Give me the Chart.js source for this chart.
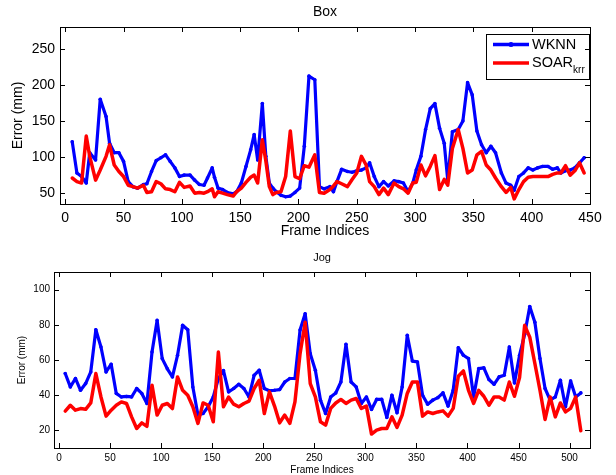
<!DOCTYPE html>
<html>
<head>
  <title>Box / Jog error</title>
  <script src="https://cdn.jsdelivr.net/npm/chart.js"></script>
  <style>
    body {
      margin: 0;
      background: #fff;
      width: 616px;
      height: 475px;
      overflow: hidden;
      position: relative;
    }
    canvas { position: absolute; left: 0; }
  </style>
</head>
<body>
<canvas id="boxChart" width="616" height="240" style="top:0"></canvas>
<canvas id="jogChart" width="616" height="238" style="top:240px"></canvas>

<script>
  // series names (second one gets a subscript in the legend)
  const seriesNames = ["WKNN", "SOAR"];
  const seriesSubs = ["", "krr"];

  // Box sequence
  const boxFrames = [6,10,14,18,21,26,30,35,38,42,46,50,54,58,62,67,70,74,78,82,
    86,90,94,98,102,107,111,115,119,122,126,128,131,135,139,144,147,151,155,159,
    162,165,169,172,175,178,181,185,189,193,197,201,205,209,214,218,222,227,230,233,
    237,242,246,250,254,258,261,265,269,273,277,282,286,290,294,298,301,305,309,313,
    317,321,325,328,332,337,341,345,349,353,357,361,365,369,374,378,382,385,389,393,
    397,401,405,409,414,418,422,425,429,433,437,441,445];
  const boxWknn = [121,78,73,64,106,96,180,156,119,106,106,94,66,59,57,62,63,80,95,99,
    103,94,85,73,75,75,68,62,61,71,85,72,57,55,51,49,52,64,87,110,
    131,96,174,101,64,57,52,47,45,46,51,57,115,212,207,59,56,59,52,66,
    83,80,79,81,82,85,92,73,59,66,60,67,66,64,52,64,82,101,138,167,
    174,140,119,68,135,138,150,203,186,136,117,106,115,106,78,64,61,54,73,78,
    85,82,85,87,87,83,85,78,81,82,85,92,99];
  const boxSoar = [71,66,64,129,101,68,82,101,117,89,80,73,61,59,57,61,51,52,66,63,
    56,55,52,65,58,60,50,51,50,52,56,45,52,50,48,46,52,57,65,72,
    75,64,124,95,59,48,51,52,73,136,73,70,88,86,103,51,50,55,60,66,
    63,59,69,78,101,89,66,59,48,57,48,64,59,56,50,64,65,89,74,87,
    102,55,69,61,112,138,112,78,82,103,108,89,82,71,59,51,58,42,55,66,
    72,73,73,73,73,76,78,78,88,75,81,92,78];
  const boxXTicks = [0,50,100,150,200,250,300,350,400,450];
  const boxYTicks = [50,100,150,200,250];

  // Jog sequence
  const jogFrames = [6,11,16,21,26,31,36,41,46,51,56,61,66,71,76,81,86,91,96,101,
    106,111,116,121,126,131,136,141,146,151,156,161,166,171,176,181,186,191,196,201,
    206,211,216,221,226,231,236,241,246,251,256,261,266,271,276,281,286,291,296,301,
    306,311,316,321,326,331,336,341,346,351,356,361,366,371,376,381,386,391,396,401,
    406,411,416,421,426,431,436,441,446,451,456,461,466,471,476,481,486,491,496,501,
    506,511];
  const jogWknn = [52.3,44.7,49.5,42.8,46.6,53.2,77.2,67.4,53.2,57.6,
    41,39,39.3,39,43.8,41,35.3,64.5,82.5,60.8,
    55,50.4,62.7,79.7,77.2,44.7,28.7,29.6,33.4,39,
    49.5,54,41.9,43.8,46.2,43.8,39,51.3,54.2,43.8,
    42.5,42.8,43.2,47.5,49.5,49.5,77,86.3,63.6,54.2,
    37.2,29.6,39,41.3,47.5,68.9,47.5,44.7,35.3,39,
    31.9,37.6,37.6,27.4,40,30,44.7,74,59.4,58.9,
    40,34.9,37.2,38.6,41.3,33.8,42.8,67,62.7,60.8,
    39,55.1,55.5,48.9,46.2,50.4,51.3,67.4,47,62.7,
    74.6,90.4,81.5,60.8,43.8,37.2,39,48.5,33.4,48.1,
    39,41.3];
  const jogSoar = [31,34.3,31.5,32.4,32,35.6,52.3,39,28.1,31.5,
    34.3,36.2,35.3,27.7,21.1,24.3,22.3,45.7,28.7,34.3,
    35.3,32.4,50.4,42.8,40,33.4,24,35.6,34.3,24.9,
    64.5,33.4,39,34.9,33.4,35.3,36.6,43.8,48.5,29.6,
    41.9,33.8,24.3,28.7,24,36.2,63.6,81.5,46.6,39,
    24.9,23,32.5,35.6,37.6,35.3,37.2,38.1,32.5,33.8,
    17.9,20.2,21.1,21.1,27.7,21.7,28.7,41,47.5,47.5,
    28.1,30.5,29.6,30.5,31.1,28.1,32.5,50.8,53.8,42.8,
    35.3,42.8,39.4,34.3,39,39,37.2,47.5,39.4,50,
    79.7,73,58,42.8,26.2,39,27.7,35.6,30.5,32.5,
    39,19.8];
  const jogXTicks = [0,50,100,150,200,250,300,350,400,450,500];
  const jogYTicks = [20,40,60,80,100];

  const FONT = "Arial, 'Liberation Sans', sans-serif";

  // box around the axes + inward tick marks on all four sides (matlab look)
  const matlabAxes = {
    id: "matlabAxes",
    afterDraw(chart, args, opts) {
      const ctx = chart.ctx;
      const a = chart.chartArea;
      const x = chart.scales.x, y = chart.scales.y;
      const len = opts.tickLen || 5;
      ctx.save();
      ctx.strokeStyle = "#000";
      ctx.lineWidth = 1;
      ctx.beginPath();
      x.ticks.forEach(t => {
        const px = Math.round(x.getPixelForValue(t.value)) + 0.5;
        ctx.moveTo(px, a.bottom); ctx.lineTo(px, a.bottom - len);
        ctx.moveTo(px, a.top); ctx.lineTo(px, a.top + len);
      });
      y.ticks.forEach(t => {
        const py = Math.round(y.getPixelForValue(t.value)) + 0.5;
        ctx.moveTo(a.left, py); ctx.lineTo(a.left + len, py);
        ctx.moveTo(a.right, py); ctx.lineTo(a.right - len, py);
      });
      ctx.stroke();
      ctx.strokeRect(Math.round(a.left) + 0.5, Math.round(a.top) + 0.5,
        Math.round(a.right - a.left), Math.round(a.bottom - a.top));
      ctx.restore();
    }
  };

  // legend with subscript, only for the top plot
  const subLegend = {
    id: "subLegend",
    afterDatasetsDraw(chart, args, opts) {
      if (!opts.show) return;
      const ctx = chart.ctx;
      const bx = 486, by = 34, bw = 103, bh = 45;
      ctx.save();
      ctx.fillStyle = "#fff";
      ctx.fillRect(bx, by, bw, bh);
      ctx.strokeStyle = "#000";
      ctx.lineWidth = 1;
      ctx.strokeRect(bx + 0.5, by + 0.5, bw, bh);
      const rows = [44.5, 63];
      chart.data.datasets.forEach((ds, i) => {
        const ry = rows[i];
        ctx.strokeStyle = ds.borderColor;
        ctx.lineWidth = 3.5;
        ctx.beginPath();
        ctx.moveTo(493, ry); ctx.lineTo(529, ry);
        ctx.stroke();
        if (ds.pointRadius > 0) {
          ctx.fillStyle = ds.borderColor;
          ctx.beginPath(); ctx.arc(511, ry, 2.5, 0, Math.PI * 2); ctx.fill();
        }
        ctx.fillStyle = "#000";
        ctx.textBaseline = "middle";
        ctx.textAlign = "left";
        ctx.font = "14.5px " + FONT;
        ctx.fillText(seriesNames[i], 532, ry);
        if (seriesSubs[i]) {
          const w = ctx.measureText(seriesNames[i]).width;
          ctx.font = "10px " + FONT;
          ctx.fillText(seriesSubs[i], 532 + w, ry + 7);
        }
      });
      ctx.restore();
    }
  };

  function makeChart(id, frames, wknn, soar, cfg) {
    const ctx = document.getElementById(id).getContext("2d");
    return new Chart(ctx, {
      type: "line",
      data: {
        datasets: [{
          label: seriesNames[0],
          data: frames.map((f, i) => ({ x: f, y: wknn[i] })),
          borderColor: "#0000ff",
          backgroundColor: "#0000ff",
          borderWidth: 3.2,
          borderJoinStyle: "round",
          borderCapStyle: "round",
          pointRadius: 1.8,
          pointBorderWidth: 0,
          pointBackgroundColor: "#0000ff",
          tension: 0,
          order: 1
        }, {
          label: seriesNames[1] + seriesSubs[1],
          data: frames.map((f, i) => ({ x: f, y: soar[i] })),
          borderColor: "#ff0000",
          backgroundColor: "#ff0000",
          borderWidth: 3.5,
          borderJoinStyle: "round",
          borderCapStyle: "round",
          pointRadius: 0,
          tension: 0,
          order: 0
        }]
      },
      options: {
        responsive: false,
        animation: false,
        devicePixelRatio: 1,
        layout: { padding: { left: 0, right: 26, top: 0, bottom: 0 } },
        plugins: {
          legend: { display: false },
          tooltip: { enabled: false },
          title: {
            display: true,
            text: cfg.title,
            fullSize: false,
            color: "#000",
            font: { family: FONT, size: cfg.titleSize, weight: "normal" },
            padding: cfg.titlePad
          },
          matlabAxes: { tickLen: 5 },
          subLegend: { show: cfg.legend }
        },
        scales: {
          x: {
            type: "linear",
            min: cfg.xMin, max: cfg.xMax,
            grid: { display: false, drawTicks: false },
            border: { display: false },
            afterBuildTicks: s => { s.ticks = cfg.xTicks.map(v => ({ value: v })); },
            afterFit: s => { s.height = cfg.xHeight; },
            ticks: {
              color: "#000", padding: cfg.xTickPad, maxRotation: 0, autoSkip: false,
              font: { family: FONT, size: cfg.tickSize }
            },
            title: {
              display: true, text: "Frame Indices", color: "#000",
              font: { family: FONT, size: cfg.labelSize },
              padding: { top: 0, bottom: cfg.xTitlePad }
            }
          },
          y: {
            type: "linear",
            min: cfg.yMin, max: cfg.yMax,
            grid: { display: false, drawTicks: false },
            border: { display: false },
            afterBuildTicks: s => { s.ticks = cfg.yTicks.map(v => ({ value: v })); },
            afterFit: s => { s.width = cfg.yWidth; },
            ticks: {
              color: "#000", padding: cfg.yTickPad, autoSkip: false,
              font: { family: FONT, size: cfg.tickSize }
            },
            title: {
              display: true, text: "Error (mm)", color: "#000",
              font: { family: FONT, size: cfg.labelSize },
              padding: { top: cfg.yTitlePad, bottom: 0 }
            }
          }
        }
      },
      plugins: [matlabAxes, subLegend]
    });
  }

  makeChart("boxChart", boxFrames, boxWknn, boxSoar, {
    title: "Box", titleSize: 14, titlePad: { top: 3.5, bottom: 6.7 },
    xMin: -4.5, xMax: 450, yMin: 35, yMax: 280,
    xTicks: boxXTicks, yTicks: boxYTicks,
    xHeight: 36, yWidth: 60, tickSize: 14, labelSize: 14,
    xTickPad: 6, yTickPad: 5, xTitlePad: 0, yTitlePad: 9.6,
    legend: true
  });

  makeChart("jogChart", jogFrames, jogWknn, jogSoar, {
    title: "Jog", titleSize: 11, titlePad: { top: 11.4, bottom: 7.4 },
    xMin: -5, xMax: 520, yMin: 10, yMax: 110,
    xTicks: jogXTicks, yTicks: jogYTicks,
    xHeight: 30, yWidth: 54, tickSize: 10, labelSize: 10,
    xTickPad: 4, yTickPad: 4, xTitlePad: 2, yTitlePad: 16,
    legend: false
  });
</script>

</body>
</html>
